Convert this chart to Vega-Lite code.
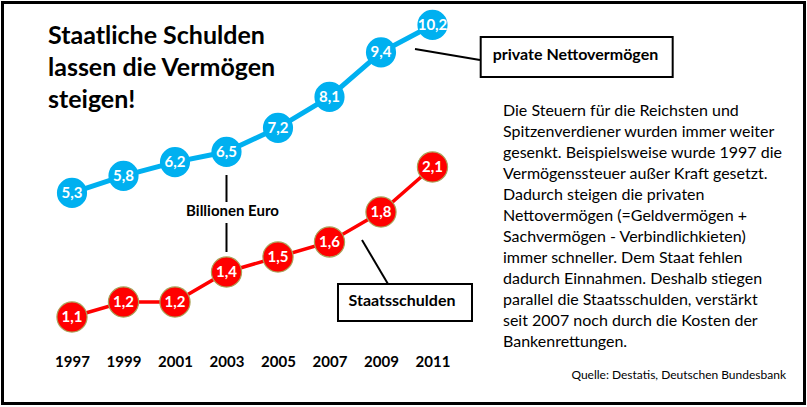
{
  "$schema": "https://vega.github.io/schema/vega-lite/v6.json",
  "width": 802,
  "height": 401,
  "padding": {"left": 2.5, "top": 2.5, "right": 2.5, "bottom": 2.5},
  "autosize": {"type": "none"},
  "background": "white",
  "config": {
    "view": {"stroke": "black", "strokeWidth": 3},
    "font": "Lato",
    "locale": {"number": {"decimal": ",", "thousands": ".", "grouping": [3], "currency": ["", " €"]}}
  },
  "data": {
    "values": [
      {"year": 1997, "privat": 5.3, "staat": 1.1},
      {"year": 1999, "privat": 5.8, "staat": 1.2},
      {"year": 2001, "privat": 6.2, "staat": 1.2},
      {"year": 2003, "privat": 6.5, "staat": 1.4},
      {"year": 2005, "privat": 7.2, "staat": 1.5},
      {"year": 2007, "privat": 8.1, "staat": 1.6},
      {"year": 2009, "privat": 9.4, "staat": 1.8},
      {"year": 2011, "privat": 10.2, "staat": 2.1}
    ]
  },
  "layer": [
    {
      "layer": [
        {
          "mark": {"type": "line", "color": "#00B0F0", "strokeWidth": 5},
          "encoding": {
            "x": {
              "field": "year",
              "type": "quantitative",
              "scale": {"domain": [1994.301, 2025.447], "nice": false, "zero": false},
              "axis": {
                "values": [1997, 1999, 2001, 2003, 2005, 2007, 2009, 2011],
                "format": "d",
                "title": null,
                "grid": false,
                "domain": false,
                "ticks": false,
                "tickSize": 0,
                "labelPadding": 0,
                "offset": -42.5,
                "labelBaseline": "middle",
                "labelFont": "Lato",
                "labelFontSize": 15,
                "labelFontWeight": "bold",
                "labelColor": "black"
              }
            },
            "y": {"field": "privat", "type": "quantitative", "scale": {"domain": [-0.84, 10.854], "nice": false, "zero": false}, "axis": null}
          }
        },
        {
          "mark": {"type": "circle", "color": "#00B0F0", "opacity": 1, "size": 910},
          "encoding": {
            "x": {"field": "year", "type": "quantitative"},
            "y": {"field": "privat", "type": "quantitative", "axis": null}
          }
        },
        {
          "mark": {"type": "text", "color": "white", "fontWeight": "bold", "fontSize": 15, "baseline": "middle", "align": "center"},
          "encoding": {
            "x": {"field": "year", "type": "quantitative"},
            "y": {"field": "privat", "type": "quantitative", "axis": null},
            "text": {"field": "privat", "type": "quantitative", "format": ".1f"}
          }
        },
        {
          "data": {"values": [{}]},
          "mark": {"type": "text", "text": ["Staatliche Schulden", "lassen die Vermögen", "steigen!"], "align": "left", "baseline": "alphabetic", "fontSize": 25, "fontWeight": "bold", "lineHeight": 32, "color": "black"},
          "encoding": {"x": {"datum": 1996.068}, "y": {"datum": 9.644}}
        },
        {
          "data": {"values": [{"y1": 5.824, "y2": 5.036}, {"y1": 4.424, "y2": 3.578}]},
          "mark": {"type": "rule", "color": "black", "strokeWidth": 2},
          "encoding": {"x": {"datum": 2003}, "y": {"field": "y1", "type": "quantitative"}, "y2": {"field": "y2"}}
        },
        {
          "data": {"values": [{}]},
          "mark": {"type": "text", "text": "Billionen Euro", "align": "center", "baseline": "alphabetic", "fontSize": 15, "fontWeight": "bold", "color": "black"},
          "encoding": {"x": {"datum": 2003.233}, "y": {"datum": 4.628}}
        },
        {
          "data": {"values": [{}]},
          "mark": {"type": "rule", "color": "black", "strokeWidth": 2},
          "encoding": {"x": {"datum": 2010.32}, "y": {"datum": 9.498}, "x2": {"datum": 2012.845}, "y2": {"datum": 9.178}}
        },
        {
          "data": {"values": [{}]},
          "mark": {"type": "rect", "fill": "white", "stroke": "black", "strokeWidth": 2},
          "encoding": {"x": {"datum": 2012.872}, "x2": {"datum": 2020.328}, "y": {"datum": 9.848}, "y2": {"datum": 8.682}}
        },
        {
          "data": {"values": [{}]},
          "mark": {"type": "text", "text": "private Nettovermögen", "align": "center", "baseline": "alphabetic", "fontSize": 16, "fontWeight": "bold", "color": "black"},
          "encoding": {"x": {"datum": 2016.553}, "y": {"datum": 9.178}}
        },
        {
          "data": {"values": [{}]},
          "mark": {"type": "rule", "color": "black", "strokeWidth": 2},
          "encoding": {"x": {"datum": 2008.262}, "y": {"datum": 3.928}, "x2": {"datum": 2009.272}, "y2": {"datum": 2.645}}
        },
        {
          "data": {"values": [{}]},
          "mark": {"type": "rect", "fill": "white", "stroke": "black", "strokeWidth": 2},
          "encoding": {"x": {"datum": 2007.33}, "x2": {"datum": 2012.534}, "y": {"datum": 2.645}, "y2": {"datum": 1.566}}
        },
        {
          "data": {"values": [{}]},
          "mark": {"type": "text", "text": "Staatsschulden", "align": "center", "baseline": "alphabetic", "fontSize": 16, "fontWeight": "bold", "color": "black"},
          "encoding": {"x": {"datum": 2009.816}, "y": {"datum": 2.003}}
        },
        {
          "data": {"values": [{}]},
          "mark": {"type": "text", "text": ["Die Steuern für die Reichsten und", "Spitzenverdiener wurden immer weiter", "gesenkt. Beispielsweise wurde 1997 die", "Vermögenssteuer außer Kraft gesetzt.", "Dadurch steigen die privaten", "Nettovermögen  (=Geldvermögen +", "Sachvermögen - Verbindlichkieten)", "immer schneller. Dem Staat fehlen", "dadurch Einnahmen. Deshalb stiegen", "parallel die Staatsschulden, verstärkt", "seit 2007 noch durch die Kosten der", "Bankenrettungen."], "align": "left", "baseline": "alphabetic", "fontSize": 16, "lineHeight": 21, "color": "black"},
          "encoding": {"x": {"datum": 2013.738}, "y": {"datum": 7.545}}
        },
        {
          "data": {"values": [{}]},
          "mark": {"type": "text", "text": "Quelle: Destatis, Deutschen Bundesbank", "align": "right", "baseline": "alphabetic", "fontSize": 12, "color": "black"},
          "encoding": {"x": {"datum": 2024.728}, "y": {"datum": -0.125}}
        }
      ]
    },
    {
      "layer": [
        {
          "mark": {"type": "line", "color": "#FF0000", "strokeWidth": 3.5},
          "encoding": {
            "x": {"field": "year", "type": "quantitative"},
            "y": {"field": "staat", "type": "quantitative", "scale": {"domain": [0.523, 3.197], "nice": false, "zero": false}, "axis": null}
          }
        },
        {
          "mark": {"type": "circle", "fill": "#FF0000", "stroke": "#a9a35a", "strokeWidth": 1.2, "opacity": 1, "size": 910},
          "encoding": {
            "x": {"field": "year", "type": "quantitative"},
            "y": {"field": "staat", "type": "quantitative", "axis": null}
          }
        },
        {
          "mark": {"type": "text", "color": "white", "fontWeight": "bold", "fontSize": 15, "baseline": "middle", "align": "center"},
          "encoding": {
            "x": {"field": "year", "type": "quantitative"},
            "y": {"field": "staat", "type": "quantitative", "axis": null},
            "text": {"field": "staat", "type": "quantitative", "format": ".1f"}
          }
        }
      ]
    }
  ],
  "resolve": {"scale": {"y": "independent"}}
}
